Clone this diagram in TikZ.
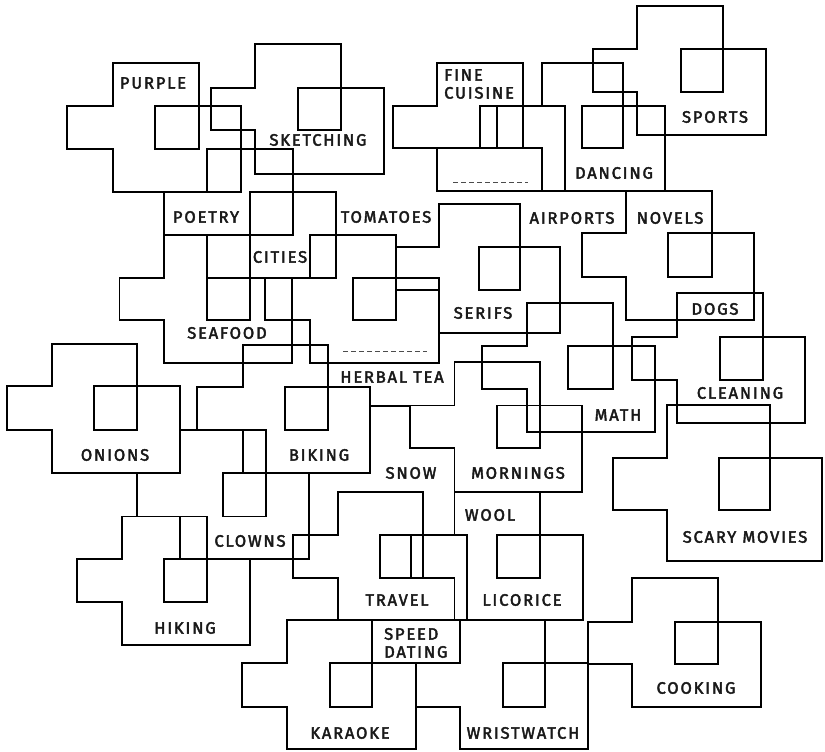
\documentclass[tikz,border=0pt]{standalone}
\usepackage{fontspec}
\newfontfamily\labfont{Fira Sans}[LetterSpace=11,FakeBold=2.5]
\tikzset{
  blobline/.style={line width=1.8pt, line join=miter, black},
  lab/.style={font=\labfont\fontsize{16.5}{18}\selectfont, inner sep=0pt, text=black!90},
  dashline/.style={line width=0.9pt, dash pattern=on 5pt off 3pt, black!70}
}
% args: x0 x1 x2 x3 x4 y0 y1 y2 y3
\newcommand\blobshape[9]{%
  \draw[blobline] (#2,#6) -- (#4,#6) -- (#4,#7) -- (#5,#7) -- (#5,#9) -- (#2,#9) -- (#2,#8) -- (#1,#8) -- (#1,#7) -- (#2,#7) -- cycle;
  \draw[blobline] (#3,#7) rectangle (#4,#8);}
\begin{document}
\begin{tikzpicture}[x=1pt,y=-1pt]
\useasboundingbox[fill=white] (0,0) rectangle (825,752);
% shapes
\blobshape{67}{113}{155}{199}{241}{63}{106}{149}{192}      % purple
\blobshape{211}{255}{298}{341}{384}{44}{88}{130}{174}      % sketching
\blobshape{393}{437}{480}{523}{565}{63}{106}{148}{191}     % fine cuisine
\blobshape{497}{542}{582}{623}{665}{63}{106}{148}{191}     % dancing
\blobshape{593}{637}{681}{723}{766}{6}{49}{92}{135}        % sports
\blobshape{164}{207}{250}{293}{336}{149}{192}{235}{278}    % poetry
\blobshape{119.5}{164}{207}{250}{292}{235}{278}{320}{363}  % seafood
\blobshape{265}{310}{353}{396}{439}{235}{278}{320}{363}    % tomatoes
\blobshape{396}{439}{479}{520}{560}{204}{247}{290}{333}    % serifs
\blobshape{582}{626}{668}{712}{754}{191}{233}{277}{320}    % novels
\blobshape{632}{677}{720}{763}{805}{293}{337}{380}{423}    % dogs
\blobshape{482}{527}{568}{613}{655}{303}{346}{389}{432}    % math
\blobshape{613}{667}{719}{770}{822}{405}{458}{510}{561}    % scary movies
\blobshape{410}{454.5}{497}{540}{582}{362}{405.5}{448}{492}% mornings
\blobshape{197}{243}{285}{328}{370}{345}{387}{430}{473}    % biking
\blobshape{293}{338}{380}{423}{467}{492}{535}{578}{620}    % travel
\blobshape{411}{454.5}{497}{540}{583}{492}{535}{578}{620}  % licorice
\blobshape{137}{180}{223}{266}{309}{430}{473}{516.5}{559}  % clowns
\blobshape{7}{52}{94}{137}{180}{344}{386}{430}{473}        % onions
\blobshape{77}{122}{164}{207}{250}{516.5}{559}{602}{645}   % hiking
\blobshape{242}{287}{330}{372}{416}{620}{663}{707}{749}    % karaoke
\blobshape{416}{460}{503}{545}{588}{620}{663}{707}{749}    % wristwatch
\blobshape{588}{632}{675}{718}{761}{578}{622}{664}{707}    % cooking
% extra segments
\coordinate (e1a) at (437,148); \coordinate (e1b) at (497,148);
\draw[blobline] (e1a) -- (e1b);
\coordinate (e2a) at (370,406); \coordinate (e2b) at (410,406);
\draw[blobline] (e2a) -- (e2b);
% blank labels
\coordinate (d1a) at (453,182); \coordinate (d1b) at (528,182);
\draw[dashline] (d1a) -- (d1b);
\coordinate (d2a) at (343,351); \coordinate (d2b) at (427,351);
\draw[dashline] (d2a) -- (d2b);
% labels
\node[lab] (lpurple) at (153,83) {PURPLE};
\node[lab] (lsketch) at (318,140) {SKETCHING};
\node[lab, anchor=west, align=left] (lfine) at (444,84) {FINE\\CUISINE};
\node[lab] (lsports) at (715,117) {SPORTS};
\node[lab] (ldancing) at (614,173) {DANCING};
\node[lab] (lpoetry) at (206,217) {POETRY};
\node[lab] (ltomato) at (386,217) {TOMATOES};
\node[lab] (lairport) at (572,218) {AIRPORTS};
\node[lab] (lnovels) at (670,218) {NOVELS};
\node[lab] (lcities) at (280,257) {CITIES};
\node[lab] (lserifs) at (483,313) {SERIFS};
\node[lab] (ldogs) at (715,309) {DOGS};
\node[lab] (lseafood) at (227,333) {SEAFOOD};
\node[lab] (lherbal) at (392,377) {HERBAL TEA};
\node[lab] (lclean) at (740,393) {CLEANING};
\node[lab] (lmath) at (618,415) {MATH};
\node[lab] (lonions) at (115,455) {ONIONS};
\node[lab] (lbiking) at (319,455) {BIKING};
\node[lab] (lsnow) at (411,473) {SNOW};
\node[lab] (lmorn) at (518,473) {MORNINGS};
\node[lab] (lwool) at (490,515) {WOOL};
\node[lab] (lscary) at (745,537) {SCARY MOVIES};
\node[lab] (lclowns) at (250,541) {CLOWNS};
\node[lab] (ltravel) at (397,600) {TRAVEL};
\node[lab] (llicorice) at (522,600) {LICORICE};
\node[lab] (lhiking) at (185,628) {HIKING};
\node[lab, anchor=west, align=left] (lspeed) at (384,643) {SPEED\\DATING};
\node[lab] (lcooking) at (696,688) {COOKING};
\node[lab] (lkaraoke) at (350,733) {KARAOKE};
\node[lab] (lwrist) at (523,733) {WRISTWATCH};
\end{tikzpicture}
\end{document}
